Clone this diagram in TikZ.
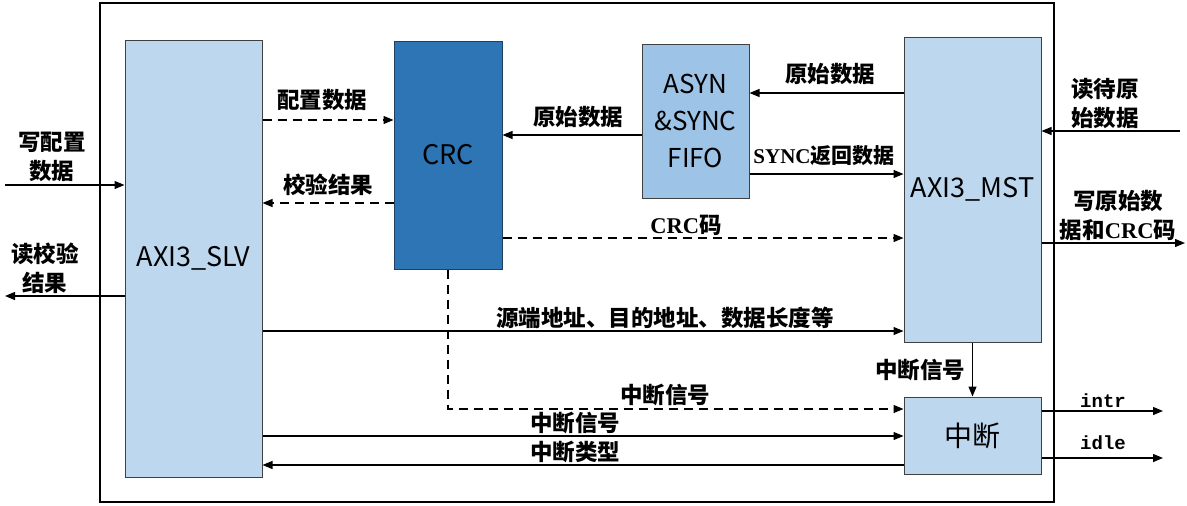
\documentclass[tikz,border=0pt]{standalone}
\usepackage{fontspec}
\setmainfont{Noto Sans CJK SC}
\newfontfamily\lser{Liberation Serif}
\newfontfamily\lmono{Liberation Mono}
\usetikzlibrary{arrows.meta,calc}
\definecolor{lblue}{HTML}{BDD7EE}
\definecolor{mblue}{HTML}{9DC3E6}
\definecolor{dblue}{HTML}{2E75B6}
\definecolor{dborder}{HTML}{1F3F60}
\tikzset{
  blk/.style={draw=black!75, line width=1pt, fill=lblue, inner sep=0pt, font=\fontsize{27}{30}\selectfont},
  lab/.style={font=\fontsize{22.5}{29}\selectfont\bfseries, inner sep=0pt, align=center},
  ttlab/.style={font=\fontsize{19}{24}\selectfont\lmono\bfseries, inner sep=0pt},
  conn/.style={line width=1.2pt, -{Triangle[length=10pt,width=8pt]}},
  dconn/.style={conn, dash pattern=on 9pt off 6pt},
}
\begin{document}
\begin{tikzpicture}[x=1pt,y=-1pt]
\useasboundingbox (0,0) rectangle (1187,506);
\draw[line width=1.2pt] (100,3) rectangle (1054,502);
% blocks
\node[blk, minimum width=137pt, minimum height=437pt] (slv) at (193.5,258.5) {AXI3\_SLV};
\node[blk, fill=dblue, draw=dborder, minimum width=108pt, minimum height=228pt] (crc) at (448,155) {CRC};
\node[blk, fill=mblue, minimum width=107pt, minimum height=154pt, align=center, font=\fontsize{26}{37}\selectfont] (fifo) at (695.5,121) {ASYN\\\&SYNC\\FIFO};
\node[blk, minimum width=137pt, minimum height=305pt] (mst) at (972.5,189.5) {AXI3\_MST};
\node[blk, minimum width=137pt, minimum height=77pt, font=\fontsize{28}{30}\selectfont] (intr) at (972.5,435.5) {中断};
% coordinates
\coordinate (inL) at (5,185);
\coordinate (outL) at (5,296);
\coordinate (inR) at (1180,131);
\coordinate (outR) at (1185,243);
\coordinate (oIntr) at (1163,411);
\coordinate (oIdle) at (1163,458);
\coordinate (y93) at (0,93);
\coordinate (y120) at (0,120);
\coordinate (y135) at (0,135);
\coordinate (y174) at (0,174);
\coordinate (y203) at (0,203);
\coordinate (y238) at (0,238);
\coordinate (y331) at (0,331);
\coordinate (y409) at (0,409);
\coordinate (y436) at (0,436);
\coordinate (y465) at (0,465);
\coordinate (corner) at (448,409);
% connectors
\draw[conn] (inL) -- (slv.west |- inL);
\draw[conn] (slv.west |- outL) -- (outL);
\draw[dconn] (slv.east |- y120) -- (crc.west |- y120);
\draw[dconn] (crc.west |- y203) -- (slv.east |- y203);
\draw[conn] (fifo.west |- y135) -- (crc.east |- y135);
\draw[conn] (mst.west |- y93) -- (fifo.east |- y93);
\draw[conn] (fifo.east |- y174) -- (mst.west |- y174);
\draw[dconn] (crc.east |- y238) -- (mst.west |- y238);
\draw[conn] (inR) -- (mst.east |- inR);
\draw[conn] (mst.east |- outR) -- (outR);
\draw[conn] (slv.east |- y331) -- (mst.west |- y331);
\draw[conn] (mst.south) -- (intr.north);
\draw[dconn] (crc.south) -- (corner) -- (intr.west |- y409);
\draw[conn] (slv.east |- y436) -- (intr.west |- y436);
\draw[conn] (intr.west |- y465) -- (slv.east |- y465);
\draw[conn] (intr.east |- oIntr) -- (oIntr);
\draw[conn] (intr.east |- oIdle) -- (oIdle);
% labels
\node[lab] (l1) at (52,157) {写配置\\数据};
\node[lab] (l2) at (45,268) {读校验\\结果};
\node[lab] (l3) at (322,100) {配置数据};
\node[lab] (l4) at (328,185) {校验结果};
\node[lab] (l5) at (578,117) {原始数据};
\node[lab] (l6) at (830,74) {原始数据};
\node[lab, font=\fontsize{21}{29}\selectfont\bfseries] (l7) at (824,156) {{\lser SYNC}返回数据};
\node[lab] (l8) at (686,225) {{\lser CRC}码};
\node[lab] (l9) at (1105,104) {读待原\\始数据};
\node[lab] (l10) at (1118,215) {写原始数\\据和{\lser CRC}码};
\node[lab] (l11) at (665,318) {源端地址、目的地址、数据长度等};
\node[lab] (l12) at (920,370) {中断信号};
\node[lab] (l13) at (665,395) {中断信号};
\node[lab] (l14) at (575,423) {中断信号};
\node[lab] (l15) at (575,452) {中断类型};
\node[ttlab] (l16) at (1103,401) {intr};
\node[ttlab] (l17) at (1103,443) {idle};
\end{tikzpicture}
\end{document}
